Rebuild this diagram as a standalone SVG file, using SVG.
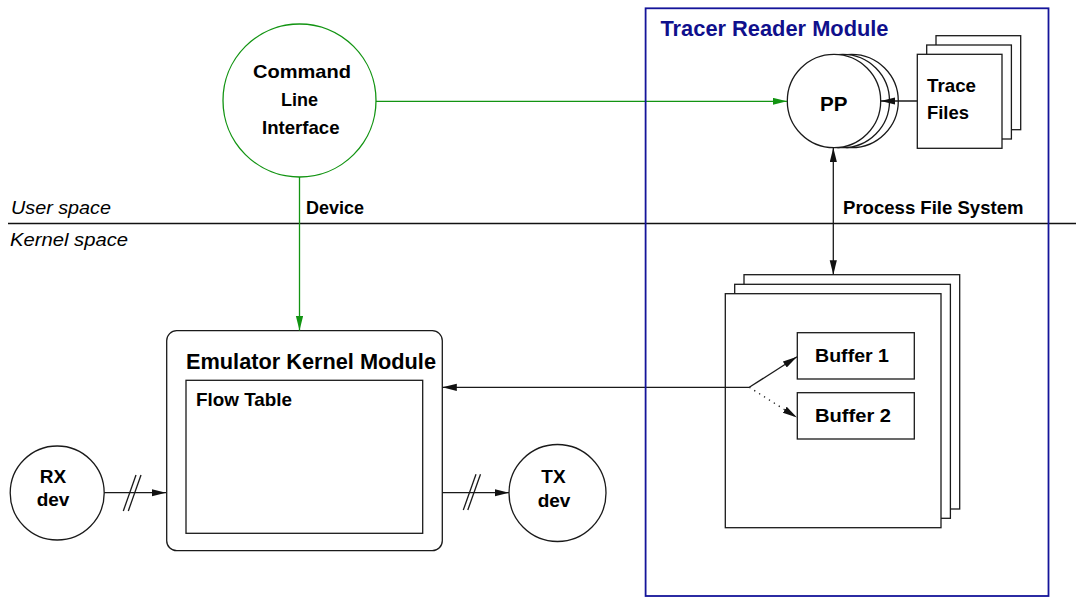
<svg xmlns="http://www.w3.org/2000/svg" width="1076" height="598" viewBox="0 0 1076 598">
  <style>
    .lbl { font-family: "Liberation Sans", Arial, sans-serif; font-weight: bold; font-size: 19px; fill: #000; }
    .title { font-family: "Liberation Sans", Arial, sans-serif; font-weight: bold; font-size: 22px; fill: #000; }
    .space { font-family: "Liberation Sans", Arial, sans-serif; font-style: italic; font-size: 17.5px; fill: #000; }
    .shape { fill: #fff; stroke: #1a1a1a; stroke-width: 1.3; }
    .edge { fill: none; stroke: #1a1a1a; stroke-width: 1.3; }
    .green { fill: none; stroke: #129412; stroke-width: 1.3; }
    .module { fill: none; stroke: #14149a; stroke-width: 1.8; }
  </style>
  <defs>
    <marker id="arrow" markerUnits="userSpaceOnUse" markerWidth="15" markerHeight="8" refX="14.5" refY="3.6" orient="auto-start-reverse">
      <path d="M0,0 L14.5,3.6 L0,7.2 z" fill="#111"/>
    </marker>
    <marker id="arrowGreen" markerUnits="userSpaceOnUse" markerWidth="15" markerHeight="8" refX="14.5" refY="3.6" orient="auto">
      <path d="M0,0 L14.5,3.6 L0,7.2 z" fill="#129412"/>
    </marker>
  </defs>

  <!-- user / kernel boundary -->
  <g id="boundary">
    <line x1="8" y1="223.5" x2="1076" y2="223.5" stroke="#111" stroke-width="1.3"/>
    <text class="space" x="11" y="214" textLength="100" lengthAdjust="spacingAndGlyphs">User space</text>
    <text class="space" x="10" y="246" textLength="118" lengthAdjust="spacingAndGlyphs">Kernel space</text>
  </g>

  <!-- command line interface -->
  <g id="cli">
    <circle cx="299.5" cy="100.5" r="76.5" fill="#fff" stroke="#129412" stroke-width="1.3"/>
    <text class="lbl" x="253" y="78" textLength="98" lengthAdjust="spacingAndGlyphs">Command</text>
    <text class="lbl" x="281" y="106" textLength="37" lengthAdjust="spacingAndGlyphs">Line</text>
    <text class="lbl" x="262" y="134" textLength="77.5" lengthAdjust="spacingAndGlyphs">Interface</text>
  </g>

  <!-- emulator kernel module -->
  <g id="emulator">
    <rect class="shape" x="166.7" y="330.7" width="275.6" height="220" rx="10" ry="10"/>
    <text class="title" x="186" y="369" textLength="250" lengthAdjust="spacingAndGlyphs">Emulator Kernel Module</text>
  </g>
  <g id="flow-table">
    <rect class="shape" x="186" y="380.3" width="236.7" height="153"/>
    <text class="lbl" x="196" y="406" textLength="96" lengthAdjust="spacingAndGlyphs">Flow Table</text>
  </g>

  <!-- network devices -->
  <g id="rx-dev">
    <circle class="shape" cx="57.2" cy="493" r="47"/>
    <text class="lbl" x="53" y="482.7" text-anchor="middle">RX</text>
    <text class="lbl" x="53" y="506" text-anchor="middle">dev</text>
  </g>
  <g id="tx-dev">
    <circle class="shape" cx="557.5" cy="493" r="48.5"/>
    <text class="lbl" x="553.5" y="483.3" text-anchor="middle">TX</text>
    <text class="lbl" x="554" y="506.5" text-anchor="middle">dev</text>
  </g>

  <!-- PP process stack -->
  <g id="pp">
    <circle class="shape" cx="851.6" cy="101" r="46.7"/>
    <circle class="shape" cx="842.8" cy="101" r="46.7"/>
    <circle class="shape" cx="834" cy="101" r="46.7"/>
    <text class="lbl" x="820" y="111" font-size="21" style="font-size:21px" textLength="27.5" lengthAdjust="spacingAndGlyphs">PP</text>
  </g>

  <!-- trace files stack -->
  <g id="trace-files">
    <rect class="shape" x="936" y="35.7" width="84.7" height="94"/>
    <rect class="shape" x="926.7" y="45" width="84.7" height="94"/>
    <rect class="shape" x="917.3" y="54.3" width="84.7" height="94"/>
    <text class="lbl" x="927" y="92" textLength="49" lengthAdjust="spacingAndGlyphs">Trace</text>
    <text class="lbl" x="927" y="119.3" textLength="42" lengthAdjust="spacingAndGlyphs">Files</text>
  </g>

  <!-- buffer pages stack -->
  <g id="buffer-pages">
    <rect class="shape" x="744" y="274.7" width="215.7" height="234.3"/>
    <rect class="shape" x="734.7" y="284.3" width="215.7" height="234"/>
    <rect class="shape" x="725.3" y="293.7" width="215.7" height="234"/>
  </g>
  <g id="buffer-1">
    <rect class="shape" x="797.3" y="332.7" width="117" height="46.3"/>
    <text class="lbl" x="815" y="362.3" textLength="74" lengthAdjust="spacingAndGlyphs">Buffer 1</text>
  </g>
  <g id="buffer-2">
    <rect class="shape" x="797.3" y="392.7" width="117" height="46.3"/>
    <text class="lbl" x="815" y="422.3" textLength="76" lengthAdjust="spacingAndGlyphs">Buffer 2</text>
  </g>

  <!-- connectors -->
  <g id="connectors">
    <line class="green" x1="376" y1="101.3" x2="787" y2="101.3" marker-end="url(#arrowGreen)"/>
    <line class="green" x1="299.5" y1="177" x2="299.5" y2="330.5" marker-end="url(#arrowGreen)"/>
    <text class="lbl" x="306" y="214.3" textLength="58" lengthAdjust="spacingAndGlyphs">Device</text>

    <line class="edge" x1="917.3" y1="101" x2="880.7" y2="101" marker-end="url(#arrow)"/>

    <line class="edge" x1="833.3" y1="147.7" x2="833.3" y2="274.7" marker-start="url(#arrow)" marker-end="url(#arrow)"/>
    <text class="lbl" x="843" y="214.3" textLength="180.5" lengthAdjust="spacingAndGlyphs">Process File System</text>

    <line class="edge" x1="749.3" y1="387.3" x2="442.3" y2="387.3" marker-end="url(#arrow)"/>
    <line class="edge" x1="749.3" y1="387.3" x2="797" y2="356.7" marker-end="url(#arrow)"/>
    <line class="edge" x1="749.3" y1="387.3" x2="797" y2="417.5" stroke-dasharray="1.3 4.5" marker-end="url(#arrow)"/>

    <line class="edge" x1="104.2" y1="492.7" x2="166" y2="492.7" marker-end="url(#arrow)"/>
    <line class="edge" x1="123.3" y1="511" x2="136" y2="475"/>
    <line class="edge" x1="128.3" y1="511" x2="141" y2="475"/>

    <line class="edge" x1="442.3" y1="492.7" x2="509" y2="492.7" marker-end="url(#arrow)"/>
    <line class="edge" x1="463.3" y1="510" x2="476" y2="474.3"/>
    <line class="edge" x1="467.8" y1="510" x2="480.5" y2="474.3"/>
  </g>

  <!-- tracer reader module boundary -->
  <g id="tracer-reader-module">
    <rect class="module" x="645.6" y="8.3" width="402.9" height="587.7"/>
    <text class="title" x="660.5" y="35.5" style="fill:#10108c" textLength="228" lengthAdjust="spacingAndGlyphs">Tracer Reader Module</text>
  </g>
</svg>
